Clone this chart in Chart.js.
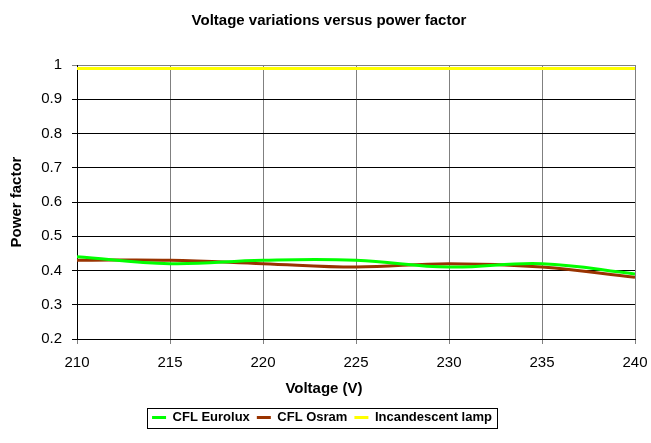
<!DOCTYPE html>
<html>
<head>
<meta charset="utf-8">
<script src="https://cdn.jsdelivr.net/npm/chart.js@4/dist/chart.umd.min.js"></script>
<style>
html, body { margin: 0; padding: 0; background: #ffffff; }
#wrap { width: 651px; height: 443px; }
</style>
</head>
<body>
<div id="wrap"><canvas id="c" width="651" height="443"></canvas></div>
<script>
// ---- data ----
const voltages = [210, 215, 220, 225, 230, 235, 240];
const cflEurolux = [0.44, 0.42, 0.43, 0.43, 0.41, 0.42, 0.39];
const cflOsram = [0.43, 0.43, 0.42, 0.41, 0.42, 0.41, 0.38];
const incandescent = [0.99, 0.99, 0.99, 0.99, 0.99, 0.99, 0.99];
const seriesNames = ['CFL Eurolux', 'CFL Osram', 'Incandescent lamp'];
const chartTitle = 'Voltage variations versus power factor';
const xTitle = 'Voltage (V)';
const yTitle = 'Power factor';

const FONT = "'Liberation Sans', Arial, sans-serif";
const colors = ['#00ff00', '#993300', '#ffff00'];
const allSeries = [cflEurolux, cflOsram, incandescent];

const datasets = allSeries.map((vals, i) => ({
  label: seriesNames[i],
  data: voltages.map((v, j) => ({ x: v, y: vals[j] })),
  borderColor: colors[i],
  backgroundColor: colors[i],
  borderWidth: 3,
  pointRadius: 0,
  tension: 0.4,
  fill: false
}));

const legendBox = {
  id: 'legendBox',
  afterDraw(chart) {
    const lg = chart.legend;
    if (!lg || !lg.legendHitBoxes || !lg.legendHitBoxes.length) return;
    const hb = lg.legendHitBoxes;
    let l = Infinity, r = -Infinity, t = Infinity, b = -Infinity;
    hb.forEach(h => { l = Math.min(l, h.left); r = Math.max(r, h.left + h.width); t = Math.min(t, h.top); b = Math.max(b, h.top + h.height); });
    const ctx = chart.ctx;
    ctx.save();
    ctx.strokeStyle = '#000';
    ctx.lineWidth = 1;
    ctx.strokeRect(Math.round(l - 5) + 0.5, Math.round(t - 3) + 0.5, Math.round(r - l + 10), Math.round(b - t + 7));
    ctx.restore();
  }
};

// chart title and x-axis title, placed as in the original (centred on the whole chart)
const titles = {
  id: 'titles',
  afterDraw(chart) {
    const ctx = chart.ctx;
    ctx.save();
    ctx.fillStyle = '#000';
    ctx.textAlign = 'center';
    ctx.textBaseline = 'middle';
    ctx.font = "bold 15px " + FONT;
    ctx.fillText(chartTitle, 329, 21);
    ctx.fillText(xTitle, 324, 389);
    ctx.restore();
  }
};

const whiteBg = {
  id: 'whiteBg',
  beforeDraw(chart) {
    const ctx = chart.ctx;
    ctx.save();
    ctx.fillStyle = '#fff';
    ctx.fillRect(0, 0, chart.width, chart.height);
    ctx.restore();
  }
};

Chart.defaults.font.family = FONT;
Chart.defaults.color = '#000';

const PAD_BOTTOM = 9;
const PAD_LEFT = 9;

new Chart(document.getElementById('c'), {
  type: 'line',
  data: { datasets },
  plugins: [whiteBg, legendBox, titles],
  options: {
    responsive: false,
    animation: false,
    layout: { padding: { left: PAD_LEFT, right: 16, top: 65, bottom: PAD_BOTTOM } },
    plugins: {
      title: { display: false },
      legend: {
        position: 'bottom',
        labels: {
          font: { size: 13, weight: 'bold', family: FONT },
          color: '#000',
          usePointStyle: true,
          pointStyle: 'line',
          pointStyleWidth: 14,
          boxHeight: 13,
          padding: 7
        }
      },
      tooltip: { enabled: false }
    },
    scales: {
      x: {
        type: 'linear',
        min: 210,
        max: 240,
        ticks: {
          stepSize: 5,
          font: { size: 15, family: FONT },
          color: '#000',
          padding: 10,
          maxRotation: 0
        },
        grid: { color: '#808080', lineWidth: 1, tickLength: 5 },
        border: { color: '#000', width: 1 },
        title: { display: false },
        afterFit(s) {
          const lgH = s.chart.legend ? s.chart.legend.height : 0;
          s.height = 443 - PAD_BOTTOM - lgH - 339;
          s.paddingLeft = 0;
          s.paddingRight = 0;
        }
      },
      y: {
        min: 0.2,
        max: 1,
        ticks: {
          stepSize: 0.1,
          font: { size: 15, family: FONT },
          color: '#000',
          padding: 10,
          callback: v => Math.round(v * 10) / 10
        },
        grid: {
          color: ctx => (ctx.tick && ctx.tick.value >= 0.999) ? '#808080' : '#000',
          lineWidth: 1,
          tickLength: 5
        },
        border: { color: '#000', width: 1 },
        title: {
          display: true,
          text: yTitle,
          font: { size: 15, weight: 'bold', family: FONT },
          color: '#000',
          padding: { top: -1, bottom: 0 }
        },
        afterFit(s) { s.width = 77 - PAD_LEFT; s.paddingTop = 0; s.paddingBottom = 0; }
      }
    }
  }
});
</script>
</body>
</html>
